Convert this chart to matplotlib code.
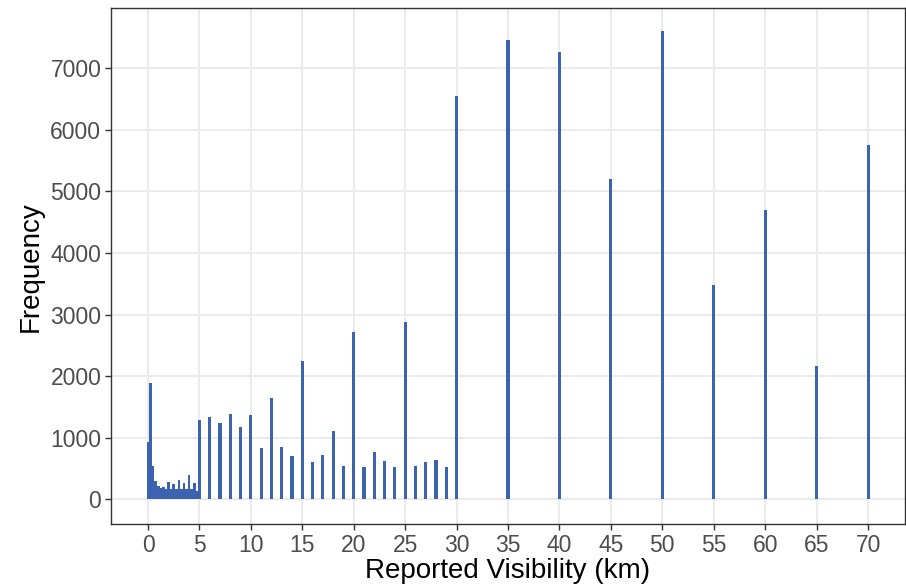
import matplotlib
matplotlib.use("Agg")
import matplotlib.pyplot as plt

# fine bins below 5 km (0.25 km steps)
fine_km = [0, 0.25, 0.5, 0.75, 1.0, 1.25, 1.5, 1.75, 2.0, 2.25, 2.5, 2.75,
           3.0, 3.25, 3.5, 3.75, 4.0, 4.25, 4.5, 4.75]
fine_freq = [930, 1880, 540, 300, 220, 180, 200, 170, 280, 160, 240, 170,
             310, 160, 260, 170, 400, 160, 270, 140]

# whole km values 5..30
km_int = list(range(5, 31))
freq_int = [1280, 1340, 1235, 1380, 1180, 1375, 825, 1640, 840, 695, 2240,
            612, 710, 1115, 536, 2711, 520, 770, 622, 531, 2873, 541, 612,
            633, 515, 6550]

# 5 km steps beyond 30
km_far = [35, 40, 45, 50, 55, 60, 65, 70]
freq_far = [7460, 7270, 5200, 7600, 3480, 4700, 2160, 5760]

bar_col = "#3B63AF"

plt.rcParams["font.family"] = ["Liberation Sans", "DejaVu Sans"]

fig = plt.figure(figsize=(9.06, 5.87), dpi=100)
ax = fig.add_axes([0.1225, 0.107, 0.8765, 0.879])

ax.bar(fine_km, fine_freq, width=0.25, color=bar_col, linewidth=0, zorder=3)
ax.bar(km_int, freq_int, width=0.3, color=bar_col, linewidth=0, zorder=3)
ax.bar(km_far, freq_far, width=0.3, color=bar_col, linewidth=0, zorder=3)

ax.set_xlim(-3.6, 73.6)
ax.set_ylim(-406, 7975)
ax.set_xticks(range(0, 71, 5))
ax.set_yticks(range(0, 7001, 1000))

ax.grid(True, color="#EBEBEB", linewidth=1.4, zorder=0)
ax.set_axisbelow(True)
for s in ax.spines.values():
    s.set_color("#333333")
    s.set_linewidth(1.0)

ax.tick_params(axis="both", labelsize=16.5, labelcolor="#4D4D4D",
               color="#333333", length=4, width=1.0, pad=3)
ax.set_xlabel("Reported Visibility (km)", fontsize=20, color="black", labelpad=1)
ax.set_ylabel("Frequency", fontsize=20, color="black", labelpad=5)

fig.savefig("out.png", dpi=100)
